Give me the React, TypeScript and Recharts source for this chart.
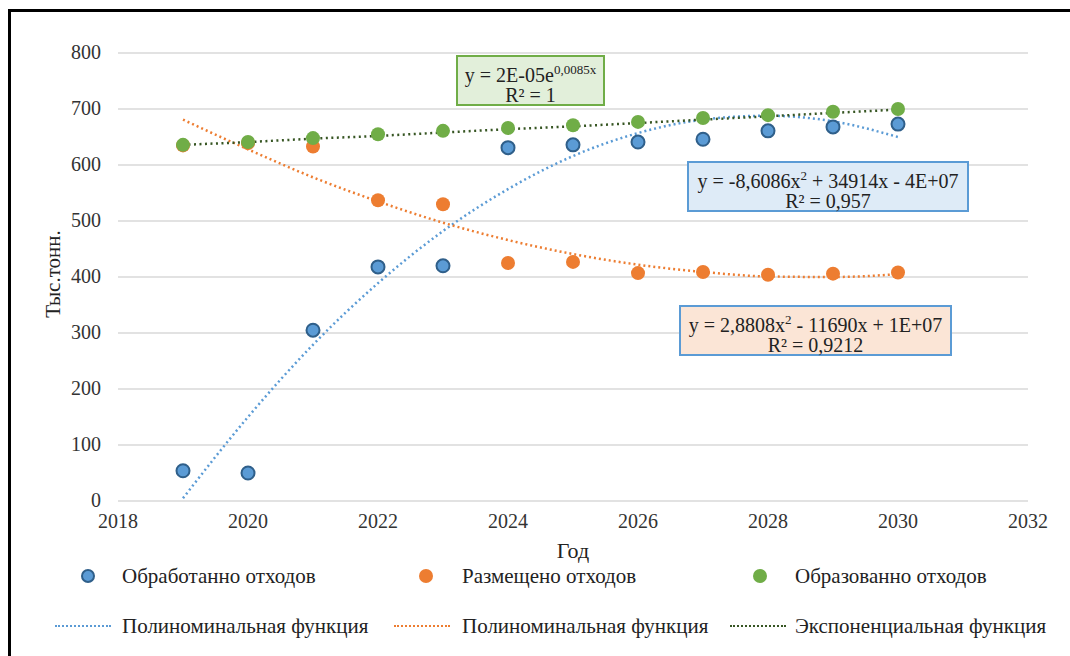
import React from "react"
import {
    CartesianGrid,
    ComposedChart,
    Label,
    Line,
    Scatter,
    XAxis,
    YAxis,
} from "recharts"

const years = [2019, 2020, 2021, 2022, 2023, 2024, 2025, 2026, 2027, 2028, 2029, 2030]

// тыс. тонн
const processed = [54, 50, 305, 418, 420, 631, 636, 641, 646, 661, 668, 673]
const placed = [635, 639, 633, 537, 530, 425, 427, 407, 409, 404, 406, 408]
const formed = [636, 641, 648, 655, 661, 666, 671, 677, 684, 689, 695, 700]

// линии тренда
const processedTrend = [5, 150, 279, 389, 482, 557, 616, 657, 681, 688, 678, 650]
const placedTrend = [681, 628, 578, 535, 497, 466, 441, 422, 409, 401, 400, 405]
const formedTrend = [636, 641, 647, 652, 658, 664, 669, 675, 681, 687, 693, 699]

const xTicks = [2018, 2020, 2022, 2024, 2026, 2028, 2030, 2032]
const yTicks = [0, 100, 200, 300, 400, 500, 600, 700, 800]

const rows = years.map((year, i) => ({
    year,
    processed: processed[i],
    placed: placed[i],
    formed: formed[i],
    processedTrend: processedTrend[i],
    placedTrend: placedTrend[i],
    formedTrend: formedTrend[i],
}))

const BLUE = "#5b9bd5"
const ORANGE = "#ed7d31"
const GREEN = "#70ad47"
const DARK_GREEN = "#375623"
const FONT = "'Liberation Serif', 'Times New Roman', serif"

const dot = (fill: string, stroke?: string) => (props: any) => (
    <circle
        cx={props.cx}
        cy={props.cy}
        r={stroke ? 6.5 : 7}
        fill={fill}
        stroke={stroke ?? "none"}
        strokeWidth={stroke ? 2 : 0}
    />
)

const xTick = (props: any) => (
    <text
        x={props.x}
        y={props.y}
        dy={21}
        textAnchor="middle"
        fill="#333"
        fontSize={20}
        style={{ fontFamily: FONT }}
    >
        {props.payload.value}
    </text>
)

const yTick = (props: any) => (
    <text
        x={props.x}
        y={props.y}
        dy={6}
        textAnchor="end"
        fill="#333"
        fontSize={20}
        style={{ fontFamily: FONT }}
    >
        {props.payload.value}
    </text>
)

const legendText: React.CSSProperties = {
    position: "absolute",
    fontFamily: FONT,
    fontSize: 21,
    color: "#222",
    lineHeight: "24px",
    whiteSpace: "nowrap",
}

function LegendDot({ x, y, fill, stroke }: { x: number; y: number; fill: string; stroke?: string }) {
    return (
        <div
            style={{
                position: "absolute",
                left: x - 7,
                top: y - 7,
                width: stroke ? 10 : 14,
                height: stroke ? 10 : 14,
                borderRadius: "50%",
                background: fill,
                border: stroke ? `2px solid ${stroke}` : "none",
            }}
        />
    )
}

function LegendDash({ x, y, color }: { x: number; y: number; color: string }) {
    return (
        <div
            style={{
                position: "absolute",
                left: x,
                top: y - 1,
                width: 56,
                height: 0,
                borderTop: `2px dotted ${color}`,
            }}
        />
    )
}

function EqBox({
    x,
    y,
    w,
    bg,
    border,
    lines,
}: {
    x: number
    y: number
    w: number
    bg: string
    border: string
    lines: React.ReactNode[]
}) {
    return (
        <div
            style={{
                position: "absolute",
                left: x,
                top: y,
                width: w,
                height: 44,
                background: bg,
                border: `2px solid ${border}`,
                fontFamily: FONT,
                fontSize: 20,
                color: "#222",
                textAlign: "center",
                lineHeight: "20px",
                paddingTop: 3,
            }}
        >
            {lines.map((l, i) => (
                <div key={i}>{l}</div>
            ))}
        </div>
    )
}

export default function App() {
    return (
        <div
            style={{
                position: "fixed",
                left: 0,
                top: 0,
                width: 1070,
                height: 656,
                background: "#fff",
                overflow: "hidden",
                fontFamily: FONT,
            }}
        >
            <div
                style={{
                    position: "absolute",
                    left: 8,
                    top: 9,
                    width: 1080,
                    height: 680,
                    border: "3px solid #000",
                }}
            />
            <ComposedChart
                width={1070}
                height={656}
                data={rows}
                margin={{ top: 53, right: 42, bottom: 125, left: 58 }}
                style={{ fontFamily: FONT }}
            >
                <CartesianGrid vertical={false} stroke="#d9d9d9" strokeWidth={1.5} />
                <XAxis
                    dataKey="year"
                    type="number"
                    domain={[2018, 2032]}
                    ticks={xTicks}
                    height={30}
                    axisLine={false}
                    tickLine={false}
                    tickSize={0}
                    tickMargin={6}
                    tick={xTick}
                >
                    <Label
                        content={() => (
                            <text
                                x={573}
                                y={550}
                                textAnchor="middle"
                                dominantBaseline="central"
                                fill="#222"
                                fontSize={22}
                                style={{ fontFamily: FONT }}
                            >
                                Год
                            </text>
                        )}
                    />
                </XAxis>
                <YAxis
                    type="number"
                    domain={[0, 800]}
                    ticks={yTicks}
                    width={60}
                    axisLine={false}
                    tickLine={false}
                    tickSize={0}
                    tickMargin={17}
                    tick={yTick}
                />
                <Scatter dataKey="processed" shape={dot(BLUE, "#2f5f8a")} isAnimationActive={false} />
                <Scatter dataKey="placed" shape={dot(ORANGE)} isAnimationActive={false} />
                <Scatter dataKey="formed" shape={dot(GREEN)} isAnimationActive={false} />
                <Line
                    dataKey="processedTrend"
                    type="monotone"
                    stroke={BLUE}
                    strokeWidth={2.5}
                    strokeDasharray="2 3"
                    dot={false}
                    activeDot={false}
                    isAnimationActive={false}
                />
                <Line
                    dataKey="placedTrend"
                    type="monotone"
                    stroke={ORANGE}
                    strokeWidth={2.5}
                    strokeDasharray="2 3"
                    dot={false}
                    activeDot={false}
                    isAnimationActive={false}
                />
                <Line
                    dataKey="formedTrend"
                    type="monotone"
                    stroke={DARK_GREEN}
                    strokeWidth={2.5}
                    strokeDasharray="2 3.5"
                    dot={false}
                    activeDot={false}
                    isAnimationActive={false}
                />
            </ComposedChart>

            {/* подпись оси Y */}
            <div
                style={{
                    position: "absolute",
                    left: 53,
                    top: 274,
                    transform: "translate(-50%, -50%) rotate(-90deg)",
                    fontFamily: FONT,
                    fontSize: 21,
                    color: "#222",
                    whiteSpace: "nowrap",
                    lineHeight: "24px",
                }}
            >
                Тыс.тонн.
            </div>

            <EqBox
                x={456}
                y={55}
                w={145}
                bg="#e2efda"
                border={GREEN}
                lines={[
                    <>
                        y = 2E-05e<sup style={{ fontSize: 13 }}>0,0085x</sup>
                    </>,
                    "R² = 1",
                ]}
            />
            <EqBox
                x={687}
                y={161}
                w={278}
                bg="#deebf7"
                border={BLUE}
                lines={[
                    <>
                        y = -8,6086x<sup style={{ fontSize: 13 }}>2</sup> + 34914x - 4E+07
                    </>,
                    "R² = 0,957",
                ]}
            />
            <EqBox
                x={679}
                y={305}
                w={269}
                bg="#fbe5d6"
                border={BLUE}
                lines={[
                    <>
                        y = 2,8808x<sup style={{ fontSize: 13 }}>2</sup> - 11690x + 1E+07
                    </>,
                    "R² = 0,9212",
                ]}
            />

            <LegendDot x={88} y={576} fill={BLUE} stroke="#2f5f8a" />
            <div style={{ ...legendText, left: 122, top: 564 }}>Обработанно отходов</div>
            <LegendDot x={426} y={576} fill={ORANGE} />
            <div style={{ ...legendText, left: 462, top: 564 }}>Размещено отходов</div>
            <LegendDot x={760} y={576} fill={GREEN} />
            <div style={{ ...legendText, left: 795, top: 564 }}>Образованно отходов</div>

            <LegendDash x={55} y={626} color={BLUE} />
            <div style={{ ...legendText, left: 122, top: 614 }}>Полиноминальная функция</div>
            <LegendDash x={394} y={626} color={ORANGE} />
            <div style={{ ...legendText, left: 462, top: 614 }}>Полиноминальная функция</div>
            <LegendDash x={730} y={626} color={DARK_GREEN} />
            <div style={{ ...legendText, left: 795, top: 614 }}>Экспоненциальная функция</div>
        </div>
    )
}
